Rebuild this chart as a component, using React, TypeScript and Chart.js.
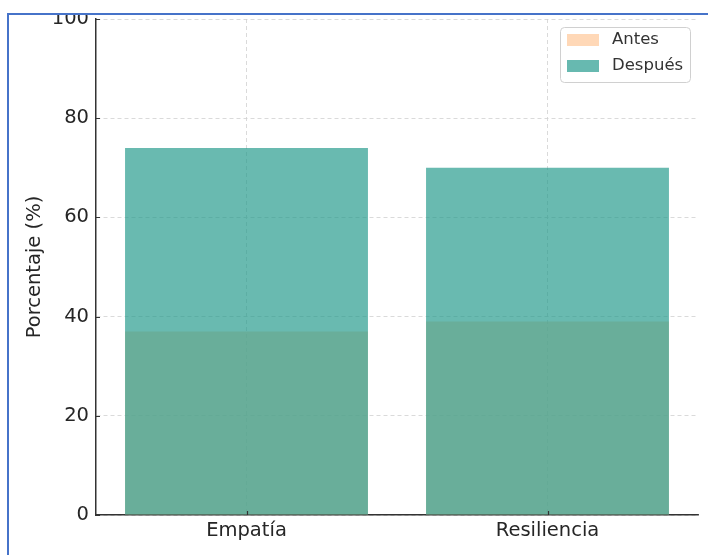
import React, { useEffect, useRef } from "react";
import { Chart, registerables } from "chart.js";

Chart.register(...registerables);

const categories = ["Empatía", "Resiliencia"];
const antesValues = [37, 39];
const despuesValues = [74, 70];
const yTicks = [0, 20, 40, 60, 80, 100];
const seriesLabels = ["Antes", "Después"];
const yTitle = "Porcentaje (%)";

const FONT = "'DejaVu Sans', sans-serif";
const TEXT = "#262626";

const framePlugin = {
  id: "framePlugin",
  afterDatasetsDraw(chart: any) {
    const ctx = chart.ctx;
    const area = chart.chartArea;
    const ys = chart.scales.y;
    const xs = chart.scales.x;
    ctx.save();
    ctx.strokeStyle = "#333333";
    ctx.lineWidth = 1.2;
    ctx.beginPath();
    yTicks.forEach((v) => {
      const py = Math.round(ys.getPixelForValue(v)) + 0.5;
      ctx.moveTo(area.left, py);
      ctx.lineTo(area.left + 4, py);
    });
    categories.forEach((_, i) => {
      const px = Math.round(xs.getPixelForValue(i)) + 0.5;
      ctx.moveTo(px, area.bottom);
      ctx.lineTo(px, area.bottom - 4);
    });
    ctx.stroke();

    // legend
    const lx = 560, ly = 27, lw = 130, lh = 55;
    ctx.fillStyle = "rgba(255,255,255,0.85)";
    ctx.strokeStyle = "#d0d0d0";
    ctx.lineWidth = 1;
    ctx.beginPath();
    (ctx as any).roundRect(lx + 0.5, ly + 0.5, lw, lh, 4);
    ctx.fill();
    ctx.stroke();
    const swatchColors = ["rgb(255,216,183)", "rgb(103,185,176)"];
    chart.data.datasets.forEach((ds: any, i: number) => {
      const cy = 40 + i * 26;
      ctx.fillStyle = swatchColors[i];
      ctx.fillRect(567, cy - 6, 32, 12);
      ctx.fillStyle = "#333333";
      ctx.font = `16.5px ${FONT}`;
      ctx.textBaseline = "middle";
      ctx.textAlign = "left";
      ctx.fillText(ds.label, 612, cy);
    });
    ctx.restore();
  },
  afterDraw(chart: any) {
    const ctx = chart.ctx;
    ctx.save();
    ctx.fillStyle = "#ffffff";
    ctx.fillRect(0, 0, 708, 13);
    ctx.fillRect(0, 0, 7, 555);
    ctx.fillStyle = "#4673c9";
    ctx.fillRect(7, 13, 701, 2);
    ctx.fillRect(7, 13, 2, 542);
    ctx.restore();
  },
};

export default function App() {
  const ref = useRef<HTMLCanvasElement | null>(null);
  useEffect(() => {
    if (!ref.current) return;
    const chart = new Chart(ref.current, {
      type: "bar",
      data: {
        labels: categories,
        datasets: [
          {
            label: seriesLabels[0],
            data: antesValues,
            backgroundColor: "rgba(255,190,135,0.6)",
            borderWidth: 0,
            grouped: false,
            order: 2,
            barPercentage: 0.807,
            categoryPercentage: 1,
          } as any,
          {
            label: seriesLabels[1],
            data: despuesValues,
            backgroundColor: "rgba(42,157,143,0.7)",
            borderWidth: 0,
            grouped: false,
            order: 1,
            barPercentage: 0.807,
            categoryPercentage: 1,
          } as any,
        ],
      },
      options: {
        responsive: false,
        animation: false,
        devicePixelRatio: 1,
        layout: { padding: { left: 0, top: 19, right: 10, bottom: 0 } },
        plugins: {
          legend: { display: false },
          tooltip: { enabled: false },
        },
        scales: {
          x: {
            type: "category",
            offset: true,
            grid: {
              offset: false,
              color: "#d0d0d0",
              lineWidth: 0.8,
              drawTicks: false,
            },
            border: { display: true, color: "#333333", width: 1.5, dash: [4, 3] },
            ticks: {
              color: TEXT,
              font: { family: FONT, size: 19.5 },
              padding: 4,
            },
            afterFit: (s: any) => {
              s.height = 40;
            },
          } as any,
          y: {
            min: 0,
            max: 100,
            afterBuildTicks: (s: any) => {
              s.ticks = yTicks.map((v) => ({ value: v }));
            },
            grid: {
              color: "#d0d0d0",
              lineWidth: 0.8,
              drawTicks: false,
            },
            border: { display: true, color: "#333333", width: 1.5, dash: [4, 3] },
            ticks: {
              color: TEXT,
              font: { family: FONT, size: 19.5 },
              padding: 7,
            },
            title: {
              display: true,
              text: yTitle,
              color: TEXT,
              font: { family: FONT, size: 19.5 },
              padding: { top: 23, bottom: 0 },
            },
            afterFit: (s: any) => {
              s.width = 96;
            },
          } as any,
        },
      },
      plugins: [framePlugin],
    });
    return () => chart.destroy();
  }, []);
  return (
    <div style={{ position: "absolute", left: 0, top: 0, width: 708, height: 555, background: "#fff" }}>
      <canvas ref={ref} width={708} height={555} style={{ width: 708, height: 555, display: "block" }} />
    </div>
  );
}
